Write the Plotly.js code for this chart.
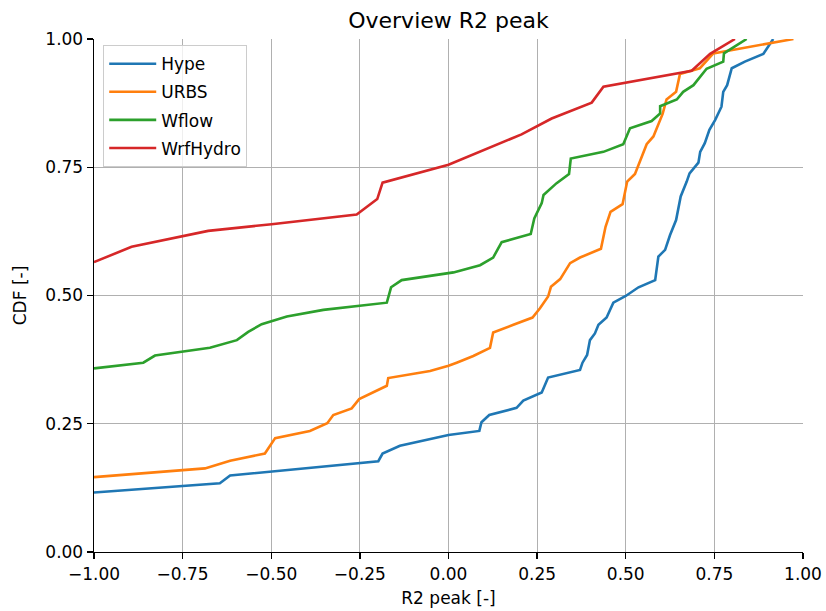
<!DOCTYPE html>
<html>
<head>
<meta charset="utf-8">
<script src="https://cdn.plot.ly/plotly-3.0.1.min.js"></script>
<style>html,body{margin:0;padding:0;background:#fff;}#chart{width:826px;height:611px;}</style>
</head>
<body>
<div id="chart"></div>
<script>
const seriesNames = ["Hype", "URBS", "Wflow", "WrfHydro"];
const seriesColors = ["#1f77b4", "#ff7f0e", "#2ca02c", "#d62728"];

const hypeX = [-1.0, -0.645, -0.616, -0.198, -0.186, -0.137, 0.0, 0.087, 0.093, 0.115, 0.192, 0.211, 0.263, 0.281, 0.371, 0.378, 0.391, 0.399, 0.413, 0.423, 0.446, 0.465, 0.500, 0.536, 0.583, 0.592, 0.611, 0.625, 0.642, 0.646, 0.655, 0.672, 0.680, 0.705, 0.710, 0.723, 0.736, 0.752, 0.770, 0.775, 0.786, 0.799, 0.836, 0.888, 0.916];
const hypeY = [0.116, 0.134, 0.149, 0.177, 0.192, 0.207, 0.228, 0.236, 0.253, 0.267, 0.281, 0.295, 0.311, 0.340, 0.355, 0.369, 0.384, 0.413, 0.426, 0.443, 0.457, 0.486, 0.499, 0.516, 0.530, 0.576, 0.589, 0.618, 0.647, 0.663, 0.693, 0.722, 0.738, 0.759, 0.780, 0.797, 0.823, 0.842, 0.868, 0.897, 0.910, 0.943, 0.956, 0.971, 1.0];

const urbsX = [-1.0, -0.687, -0.616, -0.518, -0.489, -0.391, -0.342, -0.325, -0.273, -0.252, -0.174, -0.170, -0.052, 0.0, 0.023, 0.070, 0.117, 0.126, 0.183, 0.237, 0.258, 0.281, 0.289, 0.315, 0.343, 0.371, 0.430, 0.443, 0.457, 0.491, 0.504, 0.526, 0.559, 0.578, 0.604, 0.615, 0.642, 0.653, 0.709, 0.747, 0.973];
const urbsY = [0.146, 0.163, 0.178, 0.192, 0.222, 0.236, 0.251, 0.267, 0.280, 0.298, 0.324, 0.339, 0.353, 0.363, 0.369, 0.382, 0.398, 0.428, 0.443, 0.457, 0.475, 0.498, 0.517, 0.532, 0.563, 0.574, 0.591, 0.634, 0.663, 0.678, 0.722, 0.737, 0.795, 0.810, 0.854, 0.882, 0.897, 0.932, 0.943, 0.972, 1.0];

const wflowX = [-1.0, -0.861, -0.828, -0.673, -0.597, -0.565, -0.527, -0.456, -0.353, -0.174, -0.162, -0.132, 0.014, 0.089, 0.126, 0.150, 0.232, 0.242, 0.263, 0.268, 0.305, 0.340, 0.345, 0.437, 0.493, 0.512, 0.573, 0.597, 0.597, 0.644, 0.662, 0.691, 0.728, 0.775, 0.777, 0.803, 0.841];
const wflowY = [0.358, 0.369, 0.383, 0.398, 0.413, 0.429, 0.444, 0.459, 0.472, 0.486, 0.516, 0.530, 0.545, 0.559, 0.574, 0.604, 0.620, 0.650, 0.680, 0.696, 0.719, 0.737, 0.767, 0.780, 0.795, 0.826, 0.840, 0.855, 0.869, 0.882, 0.897, 0.910, 0.942, 0.956, 0.972, 0.984, 1.0];

const wrfX = [-1.0, -0.894, -0.678, -0.499, -0.259, -0.201, -0.186, 0.0, 0.206, 0.291, 0.404, 0.437, 0.686, 0.738, 0.808];
const wrfY = [0.565, 0.595, 0.626, 0.639, 0.658, 0.688, 0.720, 0.755, 0.814, 0.845, 0.876, 0.907, 0.938, 0.971, 1.0];

const tickVals = [-1.0, -0.75, -0.5, -0.25, 0.0, 0.25, 0.5, 0.75, 1.0];
const yTickVals = [0.0, 0.25, 0.5, 0.75, 1.0];

const xs = [hypeX, urbsX, wflowX, wrfX];
const ys = [hypeY, urbsY, wflowY, wrfY];

const font = "DejaVu Sans, sans-serif";
const traces = seriesNames.map((n, i) => ({
  type: "scatter", mode: "lines", name: n, x: xs[i], y: ys[i],
  legendgroup: "g" + i,
  line: {color: seriesColors[i], width: 2.6}
}));

const layout = {
  width: 826, height: 611,
  margin: {l: 94, r: 23, t: 39, b: 59},
  paper_bgcolor: "#fff", plot_bgcolor: "#fff",
  font: {family: font, size: 17, color: "#000"},
  showlegend: true,
  title: {text: "Overview R2 peak", font: {family: font, size: 22, color: "#000"},
          x: 0.5, xref: "paper", xanchor: "center", y: 0.967, yref: "container", yanchor: "middle"},
  legend: {x: 0.013, y: 0.988, xanchor: "left", yanchor: "top", bgcolor: "rgba(255,255,255,0.8)",
           bordercolor: "#cccccc", borderwidth: 1, font: {family: font, size: 17, color: "#000"},
           tracegroupgap: 3, itemwidth: 47},
  xaxis: {range: [-1, 1], tickvals: tickVals, tickformat: ".2f", showgrid: true, gridcolor: "#b0b0b0", gridwidth: 1.2,
          zeroline: false, showline: true, linecolor: "#000", linewidth: 1.4, ticks: "outside", ticklen: 6, tickwidth: 1.4,
          tickcolor: "#000", mirror: false, title: {text: "R2 peak [-]", font: {family: font, size: 17}, standoff: 9},
          automargin: false, fixedrange: true},
  yaxis: {range: [0, 1], tickvals: yTickVals, tickformat: ".2f", showgrid: true, gridcolor: "#b0b0b0", gridwidth: 1.2,
          zeroline: false, showline: true, linecolor: "#000", linewidth: 1.4, ticks: "outside", ticklen: 6, tickwidth: 1.4,
          tickcolor: "#000", mirror: false, title: {text: "CDF [-]", font: {family: font, size: 17}, standoff: 14},
          automargin: false, fixedrange: true}
};

Plotly.newPlot("chart", traces, layout, {displayModeBar: false, staticPlot: true});
</script>
</body>
</html>
